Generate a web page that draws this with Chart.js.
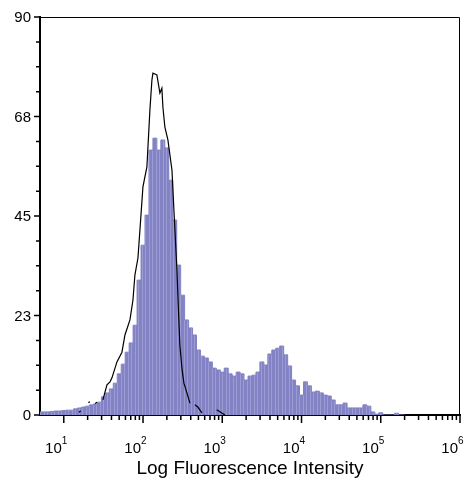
<!DOCTYPE html>
<html>
<head>
<meta charset="utf-8">
<style>
    body { margin: 0; background: #fff; }
    #wrap { width: 466px; height: 478px; }
</style>
</head>
<body>
<div id="wrap"><canvas id="chart" width="466" height="478"></canvas></div>

<script src="https://cdn.jsdelivr.net/npm/chart.js"></script>
<script type="text/javascript">
    // stained sample: log10 of each channel, and its count
    const sampleLog = [0.70, 0.75, 0.80, 0.85, 0.90, 0.95, 1.00, 1.05, 1.10, 1.15,
        1.20, 1.25, 1.30, 1.35, 1.40, 1.45, 1.50, 1.55, 1.60, 1.65,
        1.70, 1.75, 1.80, 1.85, 1.90, 1.95, 2.00, 2.05, 2.10, 2.15,
        2.20, 2.25, 2.30, 2.35, 2.40, 2.45, 2.50, 2.55, 2.60, 2.65,
        2.70, 2.75, 2.80, 2.85, 2.90, 2.95, 3.00, 3.05, 3.10, 3.15,
        3.20, 3.25, 3.30, 3.35, 3.40, 3.45, 3.50, 3.55, 3.60, 3.65,
        3.70, 3.75, 3.80, 3.85, 3.90, 3.95, 4.00, 4.05, 4.10, 4.15,
        4.20, 4.25, 4.30, 4.35, 4.40, 4.45, 4.50, 4.55, 4.60, 4.65,
        4.70, 4.75, 4.80, 4.85, 4.90, 4.95, 5.00, 5.05, 5.10, 5.15,
        5.20, 5.25, 5.30];
    const sampleCount = [0.7, 0.7, 0.7, 0.8, 0.9, 0.9, 1.0, 1.1, 1.1, 1.4,
        1.6, 1.8, 2.0, 2.3, 2.5, 2.9, 4.1, 5.0, 5.9, 7.2,
        9.3, 11.5, 14.2, 16.3, 20.3, 30.5, 38.4, 45.2, 59.9, 62.6,
        59.9, 62.2, 60.4, 53.1, 44.1, 33.9, 27.1, 21.5, 19.7, 18.1,
        14.7, 13.3, 12.9, 12.0, 10.6, 10.2, 9.7, 10.6, 9.3, 8.8,
        9.7, 9.3, 7.9, 8.8, 9.0, 9.7, 12.0, 11.3, 13.8, 14.7,
        15.1, 15.6, 13.6, 11.1, 7.9, 6.6, 4.5, 7.5, 6.6, 5.2,
        5.4, 5.0, 4.5, 4.3, 3.4, 2.3, 2.3, 2.7, 1.6, 1.6,
        1.6, 1.6, 2.3, 2.0, 0.7, 0.2, 0.5, 0, 0, 0,
        0.4, 0, 0];

    // unstained control, null = gap in the trace
    const controlLog = [1.19, 1.215, 1.25, 1.31, 1.33, 1.36, 1.395, 1.42, 1.45, 1.494,
        1.545, 1.583, 1.608, 1.671, 1.734, 1.772, 1.835, 1.873, 1.898, 1.936,
        1.961, 1.999, 2.049, 2.087, 2.112, 2.125, 2.150, 2.175, 2.213, 2.238,
        2.251, 2.276, 2.314, 2.365, 2.402, 2.428, 2.447, 2.465, 2.491, 2.516,
        2.554, 2.592, 2.62, 2.655, 2.692, 2.743, 2.80, 2.93, 2.99, 3.033];
    const controlCount = [0.6, 0.9, null, 2.8, 3.0, null, 2.6, 2.9, null, 3.4,
        6.8, 7.5, 8.4, 12.0, 14.2, 18.1, 21.5, 26.0, 31.7, 35.5,
        41.8, 51.6, 56.1, 69.0, 75.7, 77.3, 77.1, 76.9, 72.8, 73.9,
        69.6, 65.1, 62.2, 55.4, 42.0, 32.8, 23.7, 15.8, 10.6, 7.2,
        5.0, 2.7, null, 2.3, 1.8, 0.5, null, 1.2, 0.5, 0];

    const yTicks = [0, 22.5, 45, 67.5, 90];
    const yTickLabels = ['0', '23', '45', '68', '90'];
    const xDecades = [1, 2, 3, 4, 5, 6];
    const xTitle = 'Log Fluorescence Intensity';

    const FONT = '"Liberation Sans", Arial, sans-serif';

    function stripes() {
        let c = document.createElement('canvas');
        c.width = 7;
        c.height = 1;
        let g = c.getContext('2d');
        g.fillStyle = '#8282c4';
        g.fillRect(0, 0, 7, 1);
        g.fillStyle = '#9c9cd4';
        g.fillRect(2, 0, 1, 1);
        g.fillRect(5, 0, 1, 1);
        return g.createPattern(c, 'repeat');
    }

    // frame, tick marks and 10^n labels
    const axisDecor = {
        id: 'axisDecor',
        afterDraw(chart) {
            const ctx = chart.ctx;
            const a = chart.chartArea;
            const x = chart.scales.x;
            const y = chart.scales.y;
            ctx.save();
            ctx.strokeStyle = '#000';
            ctx.fillStyle = '#000';

            ctx.lineWidth = 1;
            ctx.beginPath();
            ctx.moveTo(a.left, a.top + 0.5);
            ctx.lineTo(a.right - 0.5, a.top + 0.5);
            ctx.lineTo(a.right - 0.5, a.bottom);
            ctx.stroke();

            ctx.lineWidth = 1.5;
            ctx.beginPath();
            xDecades.forEach(n => {
                let px = x.getPixelForValue(Math.pow(10, n));
                ctx.moveTo(px, a.bottom);
                ctx.lineTo(px, a.bottom + 8);
                if (n < 6) {
                    for (let k = 2; k <= 9; k++) {
                        let mx = x.getPixelForValue(k * Math.pow(10, n));
                        ctx.moveTo(mx, a.bottom);
                        ctx.lineTo(mx, a.bottom + 5);
                    }
                }
            });
            for (let i = 0; i < yTicks.length; i++) {
                let py = y.getPixelForValue(yTicks[i]);
                ctx.moveTo(a.left, py);
                ctx.lineTo(a.left - 6, py);
                if (i < yTicks.length - 1) {
                    let step = (yTicks[i + 1] - yTicks[i]) / 4;
                    for (let k = 1; k < 4; k++) {
                        let my = y.getPixelForValue(yTicks[i] + k * step);
                        ctx.moveTo(a.left, my);
                        ctx.lineTo(a.left - 4, my);
                    }
                }
            }
            ctx.stroke();

            ctx.textBaseline = 'middle';
            ctx.textAlign = 'right';
            ctx.font = '15px ' + FONT;
            yTicks.forEach((v, i) => {
                ctx.fillText(yTickLabels[i], a.left - 9, y.getPixelForValue(v) + 1);
            });

            ctx.textBaseline = 'alphabetic';
            xDecades.forEach(n => {
                let px = x.getPixelForValue(Math.pow(10, n));
                ctx.font = '15px ' + FONT;
                ctx.textAlign = 'right';
                ctx.fillText('10', px - 2, a.bottom + 38);
                ctx.font = '10px ' + FONT;
                ctx.textAlign = 'left';
                ctx.fillText(String(n), px - 2, a.bottom + 29);
            });

            ctx.font = '19px ' + FONT;
            ctx.textAlign = 'center';
            ctx.fillText(xTitle, (a.left + a.right) / 2, a.bottom + 59);
            ctx.restore();
        }
    };

    let chart = new Chart(document.getElementById('chart'), {
        type: 'line',
        data: {
            datasets: [{
                label: 'Control',
                data: controlLog.map((l, i) => ({x: Math.pow(10, l), y: controlCount[i]})),
                borderColor: '#000',
                borderWidth: 1.2,
                pointRadius: 0,
                fill: false,
                spanGaps: false,
                order: 0
            }, {
                label: 'Sample',
                data: sampleLog.map((l, i) => ({x: Math.pow(10, l), y: sampleCount[i]})),
                stepped: 'middle',
                borderColor: '#8282c4',
                borderWidth: 1,
                backgroundColor: stripes(),
                pointRadius: 0,
                fill: 'origin',
                order: 1
            }]
        },
        options: {
            responsive: false,
            animation: false,
            layout: {
                padding: {left: 40, right: 6, top: 17, bottom: 63}
            },
            scales: {
                x: {
                    type: 'logarithmic',
                    min: Math.pow(10, 0.7),
                    max: 1e6,
                    grid: {display: false, drawTicks: false},
                    border: {color: '#000', width: 2},
                    ticks: {display: false}
                },
                y: {
                    type: 'linear',
                    min: 0,
                    max: 90,
                    grid: {display: false, drawTicks: false},
                    border: {color: '#000', width: 2},
                    ticks: {display: false}
                }
            },
            plugins: {
                legend: {display: false},
                tooltip: {enabled: false}
            }
        },
        plugins: [axisDecor]
    });
</script>
</body>
</html>
